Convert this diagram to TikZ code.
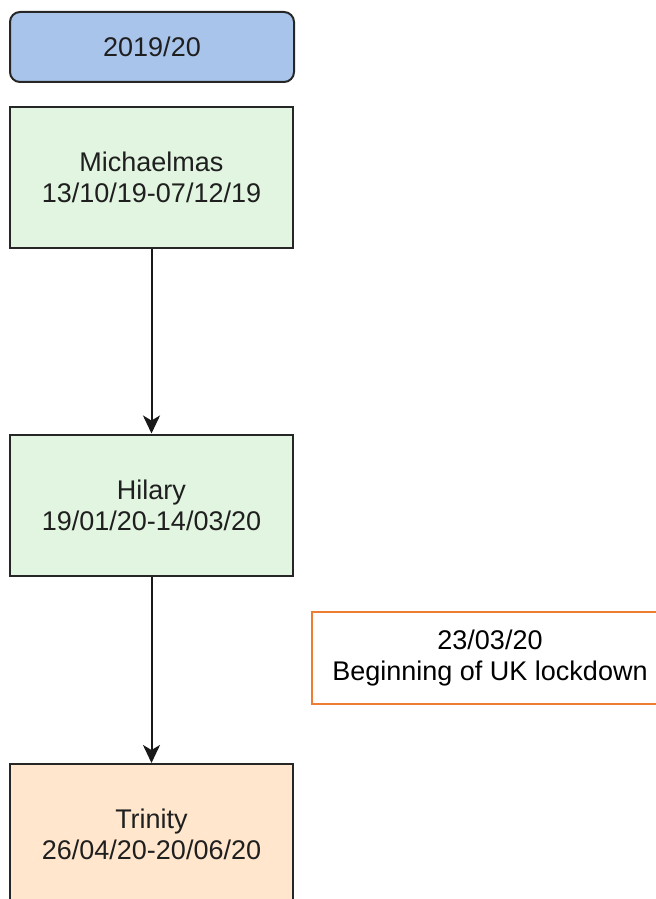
\documentclass[tikz,border=0pt]{standalone}
\usepackage{fontspec}
\setmainfont{Liberation Sans}
\usetikzlibrary{arrows.meta}

\definecolor{yearblue}{HTML}{A9C4EB}
\definecolor{termgreen}{HTML}{E1F5E0}
\definecolor{termorange}{HTML}{FFE6CC}
\definecolor{lockorange}{HTML}{EE7D31}
\definecolor{edgegrey}{HTML}{262626}

\begin{document}
\begin{tikzpicture}[x=0.5pt, y=-0.5pt,
    box/.style={draw=edgegrey, line width=1pt, align=center, inner sep=0pt,
        text=black!88, font=\fontsize{13.5}{15.5}\selectfont},
    year/.style={box, fill=yearblue, rounded corners=5pt,
        minimum width=142pt, minimum height=35pt},
    term/.style={box, minimum width=141.5pt, minimum height=70.5pt},
    event/.style={box, draw=none, text=black,
        minimum width=177pt, minimum height=45pt},
    link/.style={line width=1pt, draw=black!90,
        -{Stealth[length=9pt, width=8.5pt, inset=2.5pt]}}]
    \useasboundingbox (0,0) rectangle (656,899);

    \node[year] (year) at (152,47) {2019/20};

    % terms
    \node[term, fill=termgreen] (mich) at (151.5,177.5) {Michaelmas\\13/10/19-07/12/19};
    \node[term, fill=termgreen] (hil) at (151.5,505) {Hilary\\19/01/20-14/03/20};
    \node[term, fill=termorange] (trin) at (151.5,834.5) {Trinity\\26/04/20-20/06/20};

    % open on the right, stops at the page edge
    \node[event] (lock) at (490,658) {23/03/20\\Beginning of UK lockdown};
    \draw[lockorange, line width=1pt] (656,0 |- lock.north) -- (lock.north west)
        -- (lock.south west) -- (656,0 |- lock.south);

    \draw[link] (mich) -- (hil);
    \draw[link] (hil) -- (trin);
\end{tikzpicture}
\end{document}
